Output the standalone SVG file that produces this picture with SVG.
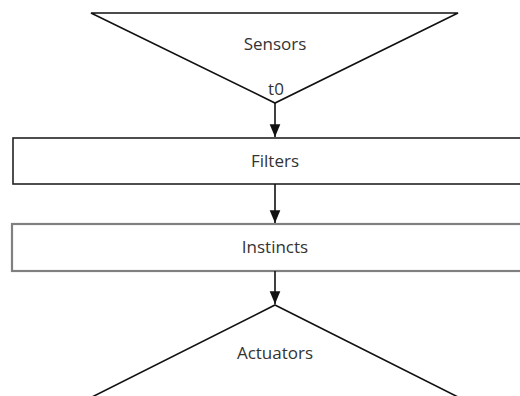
<svg xmlns="http://www.w3.org/2000/svg" width="520" height="396" viewBox="0 0 520 396">
  <style>
    .tri { fill: #fff; stroke: #111; stroke-width: 1.6; stroke-linejoin: miter; }
    .box-a { fill: #fff; stroke: #222; stroke-width: 1.6; }
    .box-b { fill: #fff; stroke: #808080; stroke-width: 2.2; }
    .lbl { font-family: "Open Sans", "Noto Sans", "DejaVu Sans", sans-serif; font-size: 17px; fill: #333; text-anchor: middle; }
    .conn { stroke: #111; stroke-width: 1.6; fill: none; }
  </style>
  <defs>
    <marker id="arrow" viewBox="0 0 12 10" refX="12" refY="5" markerWidth="8" markerHeight="7" markerUnits="strokeWidth" orient="auto">
      <path d="M0,0 L12,5 L0,10 z" fill="#111"/>
    </marker>
  </defs>
  <rect width="520" height="396" fill="#fff"/>

  <g id="sensors">
    <polygon class="tri" points="91,13 458,13 275,103"/>
    <text class="lbl" x="275" y="50">Sensors</text>
    <text class="lbl" x="276" y="95" font-size="20">t0</text>
  </g>

  <g id="filters">
    <rect class="box-a" x="13" y="138" width="520" height="46"/>
    <text class="lbl" x="275" y="167">Filters</text>
  </g>

  <g id="instincts">
    <rect class="box-b" x="12" y="224" width="520" height="47"/>
    <text class="lbl" x="275" y="253">Instincts</text>
  </g>

  <g id="actuators">
    <polygon class="tri" points="275,305 458,397 92,397"/>
    <text class="lbl" x="275" y="359">Actuators</text>
  </g>

  <g id="connectors">
    <line class="conn" x1="275" y1="103" x2="275" y2="137" marker-end="url(#arrow)"/>
    <line class="conn" x1="275" y1="184" x2="275" y2="223" marker-end="url(#arrow)"/>
    <line class="conn" x1="275" y1="271" x2="275" y2="304" marker-end="url(#arrow)"/>
  </g>
</svg>
